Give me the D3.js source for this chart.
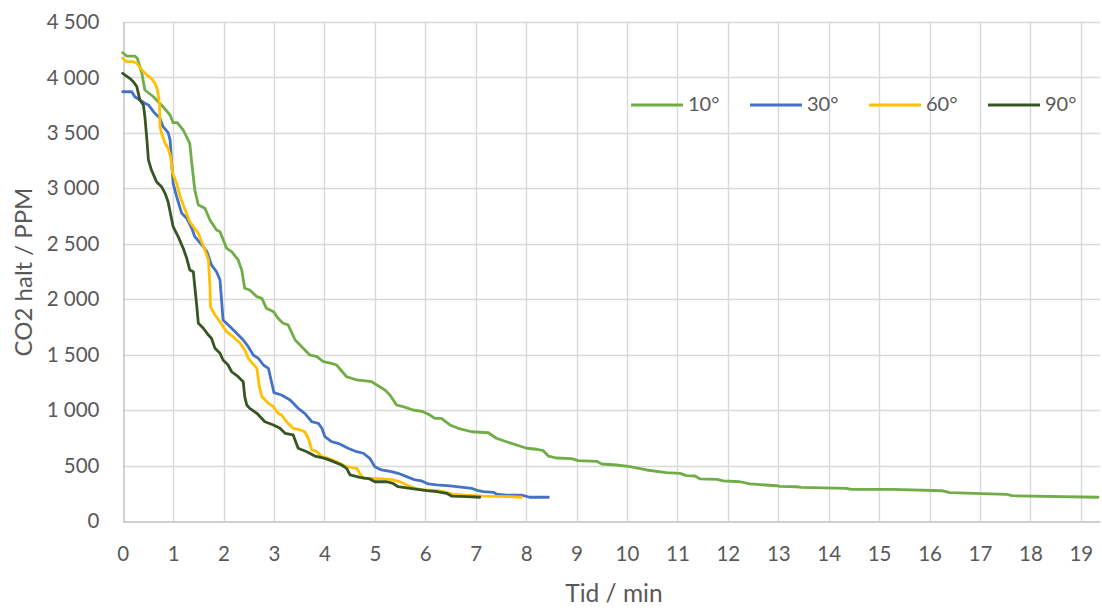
<!DOCTYPE html>
<html>
<head>
<meta charset="utf-8">
<script src="https://cdn.jsdelivr.net/npm/d3@7"></script>
<style>
  html, body { margin: 0; padding: 0; background: #ffffff; }
  svg { display: block; }
  text { font-family: "Lato", "Open Sans", sans-serif; fill: #595959; }
</style>
</head>
<body>
<svg id="chart" width="1102" height="608"></svg>
<script>
// CO2 concentration (ppm) against time (minutes) for four angles
const seriesNames = ["10°", "30°", "60°", "90°"];
const seriesColors = ["#70AD47", "#4472C4", "#FFC000", "#375623"];

const time10 = [0, 0.08, 0.24, 0.29, 0.38, 0.44, 0.61, 0.80, 0.94, 1.00, 1.08, 1.20, 1.33, 1.37, 1.43, 1.50, 1.63, 1.73, 1.86, 1.93, 2.06, 2.16, 2.29, 2.36, 2.42, 2.52, 2.66, 2.76, 2.85, 2.99, 3.08, 3.18, 3.28, 3.42, 3.55, 3.71, 3.85, 3.98, 4.14, 4.24, 4.44, 4.64, 4.94, 5.04, 5.20, 5.30, 5.43, 5.56, 5.76, 5.96, 6.09, 6.19, 6.32, 6.49, 6.65, 6.92, 7.25, 7.41, 7.61, 7.81, 8.01, 8.21, 8.34, 8.44, 8.60, 8.90, 9.03, 9.40, 9.50, 9.79, 10.06, 10.39, 10.78, 11.05, 11.18, 11.35, 11.45, 11.78, 11.91, 12.24, 12.44, 12.97, 13.03, 13.36, 13.46, 14.35, 14.45, 15.28, 16.24, 16.40, 17.53, 17.63, 19.34];
const ppm10 = [4223, 4193, 4193, 4173, 4037, 3887, 3826, 3736, 3661, 3592, 3592, 3526, 3406, 3226, 2985, 2850, 2820, 2714, 2624, 2609, 2459, 2429, 2354, 2264, 2099, 2083, 2023, 2008, 1918, 1888, 1828, 1783, 1768, 1632, 1572, 1497, 1482, 1437, 1422, 1407, 1301, 1272, 1256, 1226, 1181, 1136, 1046, 1031, 1001, 986, 956, 926, 926, 866, 836, 805, 796, 746, 715, 685, 656, 647, 634, 586, 568, 562, 544, 538, 514, 505, 490, 460, 436, 430, 409, 406, 379, 376, 361, 354, 334, 318, 313, 309, 304, 295, 286, 286, 273, 255, 241, 228, 214];

const time30 = [0, 0.18, 0.24, 0.34, 0.44, 0.51, 0.61, 0.74, 0.80, 0.90, 0.94, 0.97, 1.00, 1.07, 1.17, 1.27, 1.37, 1.43, 1.57, 1.67, 1.76, 1.86, 1.93, 1.96, 1.99, 2.13, 2.26, 2.39, 2.49, 2.59, 2.69, 2.79, 2.89, 2.95, 3.00, 3.15, 3.32, 3.48, 3.61, 3.75, 3.88, 3.95, 4.01, 4.14, 4.27, 4.47, 4.64, 4.77, 4.90, 5.00, 5.13, 5.33, 5.46, 5.63, 5.80, 5.93, 6.06, 6.23, 6.49, 6.75, 6.92, 7.05, 7.15, 7.35, 7.41, 7.61, 7.91, 8.07, 8.44];
const ppm30 = [3871, 3871, 3826, 3797, 3767, 3752, 3691, 3631, 3556, 3502, 3436, 3226, 3045, 2925, 2775, 2730, 2640, 2564, 2489, 2429, 2309, 2248, 2173, 1993, 1813, 1752, 1693, 1632, 1572, 1497, 1467, 1407, 1377, 1256, 1157, 1136, 1091, 1016, 971, 895, 881, 836, 760, 715, 701, 656, 625, 611, 565, 490, 460, 445, 430, 400, 370, 361, 334, 325, 316, 304, 295, 273, 264, 259, 243, 234, 234, 214, 214];

const time60 = [0, 0.08, 0.21, 0.28, 0.38, 0.48, 0.57, 0.64, 0.69, 0.73, 0.74, 0.77, 0.84, 0.90, 0.95, 0.99, 1.07, 1.14, 1.24, 1.33, 1.50, 1.63, 1.70, 1.73, 1.74, 1.83, 1.93, 2.06, 2.19, 2.33, 2.42, 2.49, 2.66, 2.71, 2.76, 2.89, 2.99, 3.08, 3.15, 3.25, 3.38, 3.52, 3.61, 3.68, 3.75, 3.85, 3.95, 4.08, 4.24, 4.44, 4.64, 4.70, 4.77, 4.94, 5.17, 5.36, 5.50, 5.63, 5.80, 5.96, 6.23, 6.36, 6.55, 6.75, 7.15, 7.68, 7.91];
const ppm60 = [4173, 4142, 4142, 4128, 4067, 4022, 3992, 3947, 3887, 3767, 3556, 3496, 3406, 3361, 3285, 3136, 3045, 2925, 2805, 2699, 2594, 2444, 2354, 2113, 1932, 1858, 1797, 1707, 1662, 1602, 1542, 1467, 1377, 1211, 1121, 1061, 1031, 971, 956, 895, 836, 821, 805, 746, 640, 625, 580, 565, 535, 490, 475, 430, 385, 385, 379, 370, 354, 325, 295, 280, 273, 264, 243, 234, 225, 219, 214];

const time90 = [0, 0.14, 0.21, 0.28, 0.34, 0.41, 0.44, 0.48, 0.51, 0.57, 0.67, 0.77, 0.84, 0.90, 0.94, 1.00, 1.10, 1.20, 1.27, 1.33, 1.40, 1.43, 1.47, 1.50, 1.60, 1.70, 1.76, 1.83, 1.93, 1.99, 2.09, 2.16, 2.29, 2.39, 2.42, 2.46, 2.52, 2.66, 2.82, 2.99, 3.12, 3.22, 3.38, 3.48, 3.65, 3.81, 4.01, 4.18, 4.34, 4.44, 4.51, 4.70, 4.90, 5.00, 5.23, 5.36, 5.46, 5.70, 6.03, 6.23, 6.42, 6.52, 6.82, 7.08];
const ppm90 = [4037, 3992, 3962, 3917, 3797, 3752, 3646, 3436, 3256, 3165, 3060, 3015, 2955, 2879, 2789, 2654, 2564, 2459, 2369, 2264, 2248, 2113, 1932, 1783, 1738, 1677, 1648, 1557, 1512, 1452, 1407, 1346, 1301, 1256, 1121, 1046, 1016, 971, 895, 866, 836, 791, 776, 656, 625, 586, 565, 535, 505, 475, 415, 394, 379, 354, 354, 340, 309, 295, 273, 264, 250, 225, 219, 214];

const xTicks = d3.range(0, 20);
const yTicks = d3.range(0, 4501, 500);

const seriesTimes = [time10, time30, time60, time90];
const seriesPpm = [ppm10, ppm30, ppm60, ppm90];

const svg = d3.select("#chart");
const plot = { left: 122.7, right: 1100, top: 22, bottom: 521 };

const x = d3.scaleLinear().domain([0, 19.38]).range([plot.left, plot.right]);
const y = d3.scaleLinear().domain([0, 4500]).range([plot.bottom, plot.top]);

// Thousands separated by a space: "4 500"
const fmtY = v => d3.format(",")(v).replace(/,/g, " ");

// Grid lines
const grid = svg.append("g").attr("stroke", "#d9d9d9").attr("stroke-width", 1.4);
grid.selectAll("line.h").data(yTicks.filter(v => v > 0)).join("line")
  .attr("x1", plot.left).attr("x2", plot.right)
  .attr("y1", d => Math.round(y(d)) + 0.5).attr("y2", d => Math.round(y(d)) + 0.5);
grid.selectAll("line.v").data(xTicks.filter(v => v > 0)).join("line")
  .attr("y1", plot.top).attr("y2", plot.bottom)
  .attr("x1", d => Math.round(x(d)) + 0.5).attr("x2", d => Math.round(x(d)) + 0.5);

// Axes
const xAxis = d3.axisBottom(x).tickValues(xTicks).tickSize(0).tickPadding(25).tickFormat(d3.format("d"));
const yAxis = d3.axisLeft(y).tickValues(yTicks).tickSize(0).tickPadding(24).tickFormat(fmtY);

const gx = svg.append("g").attr("transform", `translate(0,${Math.round(plot.bottom) + 0.5})`).call(xAxis);
gx.select(".domain").attr("stroke", "#bfbfbf").attr("stroke-width", 1.4);
gx.selectAll("text").attr("font-size", 20.5).attr("fill", "#595959").attr("font-family", "Lato");

const gy = svg.append("g").attr("transform", `translate(${Math.round(plot.left) + 0.5},0)`).call(yAxis);
gy.select(".domain").attr("stroke", "#bfbfbf").attr("stroke-width", 1.4);
gy.selectAll("text").attr("font-size", 20.5).attr("fill", "#595959").attr("font-family", "Lato");

// Series lines
const line = d3.line().x(d => x(d[0])).y(d => y(d[1]));
seriesNames.forEach((name, i) => {
  const pts = seriesTimes[i].map((t, j) => [t, seriesPpm[i][j]]);
  svg.append("path")
    .datum(pts)
    .attr("fill", "none")
    .attr("stroke", seriesColors[i])
    .attr("stroke-width", 2.8)
    .attr("stroke-linejoin", "round")
    .attr("stroke-linecap", "round")
    .attr("d", line);
});

// Legend
const legendX = [631, 750, 869, 988];
const legend = svg.append("g");
seriesNames.forEach((name, i) => {
  legend.append("line")
    .attr("x1", legendX[i]).attr("x2", legendX[i] + 52)
    .attr("y1", 105).attr("y2", 105)
    .attr("stroke", seriesColors[i]).attr("stroke-width", 2.8);
  legend.append("text")
    .attr("x", legendX[i] + 57).attr("y", 104)
    .attr("dy", "0.36em")
    .attr("font-size", 20)
    .text(name);
});

// Axis titles
svg.append("text")
  .attr("x", 614).attr("y", 593)
  .attr("text-anchor", "middle").attr("dy", "0.36em")
  .attr("font-size", 24.5)
  .text("Tid / min");

svg.append("text")
  .attr("transform", "translate(23,272) rotate(-90)")
  .attr("text-anchor", "middle").attr("dy", "0.36em")
  .attr("font-size", 24)
  .text("CO2 halt / PPM");
</script>
</body>
</html>
